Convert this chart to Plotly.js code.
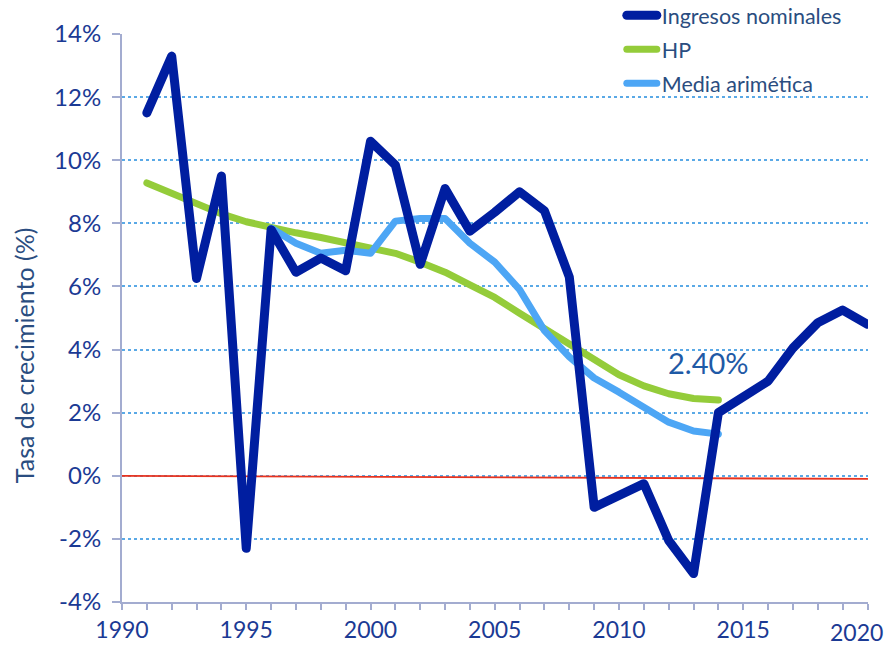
<!DOCTYPE html>
<html>
<head>
<meta charset="utf-8">
<script src="https://cdn.plot.ly/plotly-3.0.1.min.js"></script>
<style>
  body { margin: 0; background: #fff; }
  #chart { width: 889px; height: 646px; }
  #chart .scatterlayer .js-line, #chart .legend .js-line { stroke-linejoin: round !important; stroke-linecap: round !important; }
</style>
</head>
<body>
<div id="chart"></div>
<script>
// Years for each series
const yearsIngresos = [1991, 1992, 1993, 1994, 1995, 1996, 1997, 1998, 1999, 2000,
                       2001, 2002, 2003, 2004, 2005, 2006, 2007, 2008, 2009, 2010,
                       2011, 2012, 2013, 2014, 2015, 2016, 2017, 2018, 2019, 2020];
const ingresosNominales = [11.5, 13.3, 6.25, 9.5, -2.3, 7.8, 6.45, 6.9, 6.5, 10.6,
                           9.85, 6.7, 9.1, 7.75, 8.35, 9.0, 8.4, 6.3, -1.0, -0.65,
                           -0.25, -2.05, -3.1, 2.0, 2.5, 3.0, 4.05, 4.85, 5.25, 4.8];

const yearsHP = [1991, 1992, 1993, 1994, 1995, 1996, 1997, 1998, 1999, 2000,
                 2001, 2002, 2003, 2004, 2005, 2006, 2007, 2008, 2009, 2010,
                 2011, 2012, 2013, 2014];
const hp = [9.28, 8.95, 8.6, 8.3, 8.05, 7.85, 7.7, 7.55, 7.4, 7.25,
            7.05, 6.77, 6.45, 6.05, 5.65, 5.15, 4.65, 4.15, 3.65, 3.2,
            2.85, 2.6, 2.45, 2.4];

const yearsMedia = [1996, 1997, 1998, 1999, 2000, 2001, 2002, 2003, 2004, 2005,
                    2006, 2007, 2008, 2009, 2010, 2011, 2012, 2013, 2014];
const mediaAritmetica = [7.85, 7.37, 7.05, 7.15, 7.05, 8.07, 8.15, 8.15, 7.37, 6.77,
                         5.9, 4.6, 3.77, 3.1, 2.65, 2.2, 1.7, 1.42, 1.32];

// Reference line near zero
const refYears = [1990, 2020];
const refValues = [0, -0.1];

const xTicks = [1990, 1995, 2000, 2005, 2010, 2015, 2020];
// the 2020 label is drawn as an annotation so it stays inside the page
const xTickLabels = ['1990', '1995', '2000', '2005', '2010', '2015', ''];
const yTicks = [-4, -2, 0, 2, 4, 6, 8, 10, 12, 14];
const yTickLabels = ['-4%', '-2%', '0%', '2%', '4%', '6%', '8%', '10%', '12%', '14%'];

const textBlue = '#1b3a94';
const labelBlue = '#2a4d80';
const axisGray = '#a3acd0';

const traces = [
  {
    x: refYears, y: refValues, type: 'scatter', mode: 'lines',
    line: {color: '#e8321e', width: 1.8},
    showlegend: false, hoverinfo: 'skip'
  },
  {
    x: yearsHP, y: hp, name: 'HP', type: 'scatter', mode: 'lines',
    line: {color: '#94cc3a', width: 7}, legendrank: 2, legendgroup: 'b'
  },
  {
    x: yearsMedia, y: mediaAritmetica, name: 'Media arimética', type: 'scatter', mode: 'lines',
    line: {color: '#4da6f5', width: 7}, legendrank: 3, legendgroup: 'c'
  },
  {
    x: yearsIngresos, y: ingresosNominales, name: 'Ingresos nominales', type: 'scatter', mode: 'lines',
    line: {color: '#001ea0', width: 9}, legendrank: 1, legendgroup: 'a'
  }
];

const layout = {
  width: 889,
  height: 646,
  margin: {l: 122, r: 21, t: 34, b: 44, autoexpand: false},
  paper_bgcolor: '#fff',
  plot_bgcolor: '#fff',
  font: {family: 'Lato, sans-serif', color: textBlue},
  showlegend: true,
  legend: {
    x: 0.670, y: 1.069, xanchor: 'left', yanchor: 'top',
    bgcolor: 'rgba(0,0,0,0)',
    font: {size: 21.5, color: labelBlue},
    traceorder: 'grouped',
    tracegroupgap: 3
  },
  xaxis: {
    range: [1990, 2020.02],
    tickvals: xTicks, ticktext: xTickLabels,
    ticks: 'outside', ticklen: 6, tickwidth: 1.5, tickcolor: axisGray,
    minor: {dtick: 1, ticks: 'outside', ticklen: 6, tickwidth: 1.5, tickcolor: axisGray, showgrid: false},
    showline: true, linecolor: axisGray, linewidth: 2,
    showgrid: false, zeroline: false,
    tickfont: {size: 23, color: textBlue}
  },
  yaxis: {
    range: [-4, 14],
    tickvals: yTicks, ticktext: yTickLabels,
    ticks: 'outside', ticklen: 8, tickwidth: 1.5, tickcolor: axisGray,
    ticklabelstandoff: 6,
    showline: true, linecolor: axisGray, linewidth: 2,
    showgrid: true, gridcolor: '#5aa9e6', gridwidth: 1.5, griddash: 'dot',
    zeroline: false,
    tickfont: {size: 24, color: textBlue}
  },
  annotations: [
    {
      text: 'Tasa de crecimiento (%)', textangle: -90,
      xref: 'paper', yref: 'paper', x: -0.131, y: 0.435,
      xanchor: 'center', yanchor: 'middle', showarrow: false,
      font: {size: 25, color: labelBlue}
    },
    {
      text: '2.40%', x: 2013.6, y: 3.6, xref: 'x', yref: 'y',
      showarrow: false, font: {size: 29, color: '#1f5aa6'}
    },
    {
      text: '2020', x: 2020, y: 0, xref: 'x', yref: 'paper',
      xanchor: 'center', yanchor: 'top', xshift: -11, yshift: -14,
      showarrow: false, font: {size: 23, color: textBlue}
    }
  ]
};

Plotly.newPlot('chart', traces, layout, {displayModeBar: false});
</script>
</body>
</html>
